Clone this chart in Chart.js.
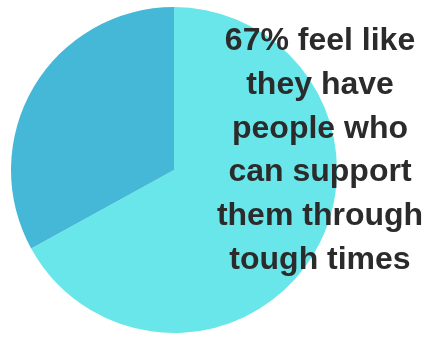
<!DOCTYPE html>
<html><head><meta charset="utf-8">
<script src="https://cdn.jsdelivr.net/npm/chart.js@4"></script>
<style>html,body{margin:0;padding:0;background:#fff}canvas{display:block}</style>
</head><body>
<canvas id="c" width="423" height="337"></canvas>
<script>
const categories = ["Have support", "Do not"];
const values = [67, 33];
const colors = ["#69E6E9", "#44B8D6"];
const textLines = ["67% feel like", "they have", "people who", "can support", "them through", "tough times"];

const textPlugin = {
  id: 'overlayText',
  afterDraw(chart) {
    const ctx = chart.ctx;
    ctx.save();
    ctx.fillStyle = '#2b2b2b';
    ctx.font = 'bold 32px "Liberation Sans", Arial, sans-serif';
    ctx.textAlign = 'center';
    ctx.textBaseline = 'alphabetic';
    textLines.forEach((t, i) => ctx.fillText(t, 320, 50 + i * 43.8));
    ctx.restore();
  }
};

new Chart(document.getElementById('c'), {
  type: 'pie',
  data: { labels: categories, datasets: [{ data: values, backgroundColor: colors, borderWidth: 0 }] },
  options: {
    responsive: false, animation: false,
    layout: { padding: { left: 11, right: 86, top: 7, bottom: 4 } },
    plugins: { legend: { display: false }, tooltip: { enabled: false } }
  },
  plugins: [textPlugin]
});
</script>
</body></html>
